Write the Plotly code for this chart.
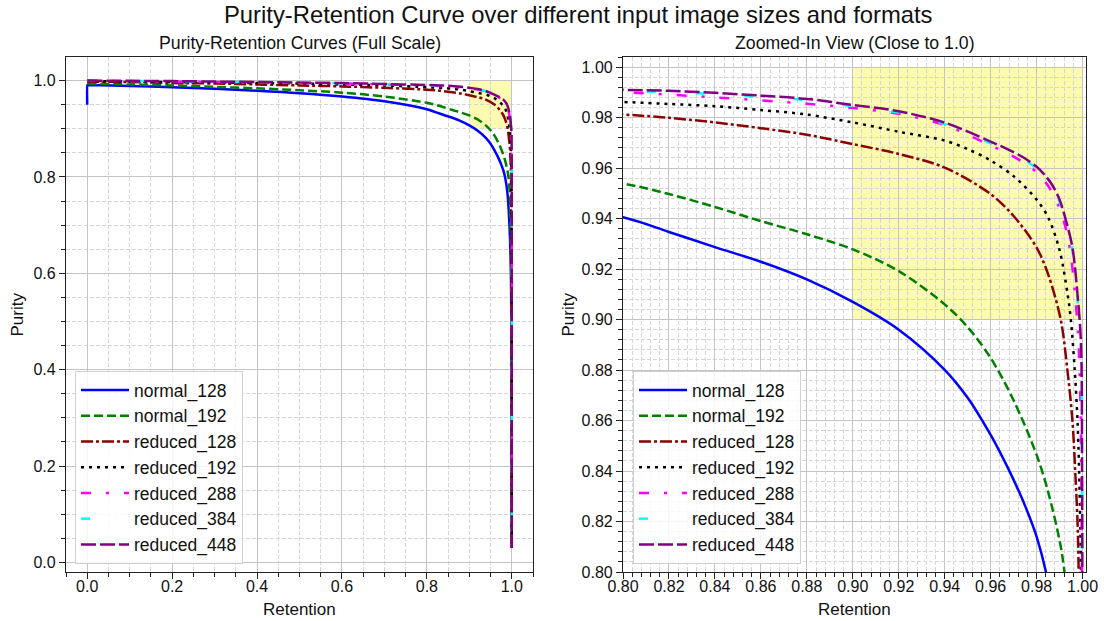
import plotly.graph_objects as go

# ---- purity / retention values per model variant ----
names = ["normal_128", "normal_192", "reduced_128", "reduced_192",
         "reduced_288", "reduced_384", "reduced_448"]

ret_normal_128 = [0.0, 0.0005, 0.001, 0.1, 0.2, 0.3, 0.4, 0.5, 0.6, 0.7, 0.8, 0.82, 0.84,
                  0.86, 0.88, 0.90, 0.92, 0.94, 0.95, 0.96, 0.965, 0.97, 0.975, 0.98,
                  0.985, 0.99, 0.995, 0.998, 0.9995, 1.0]
pur_normal_128 = [0.950, 0.991, 0.991, 0.989, 0.986, 0.983, 0.979, 0.974, 0.967, 0.957,
                  0.9405, 0.9347, 0.9287, 0.9229, 0.9159, 0.9070, 0.8960, 0.8801, 0.869,
                  0.8543, 0.8458, 0.8365, 0.8262, 0.8140, 0.7960, 0.765, 0.69, 0.60,
                  0.45, 0.03]

ret_normal_192 = [0.0, 0.1, 0.2, 0.3, 0.4, 0.5, 0.6, 0.7, 0.8, 0.82, 0.84, 0.86, 0.88,
                  0.90, 0.92, 0.94, 0.95, 0.96, 0.97, 0.98, 0.985, 0.99, 0.992, 0.995,
                  0.998, 0.9995, 1.0]
pur_normal_192 = [0.994, 0.992, 0.990, 0.987, 0.984, 0.980, 0.975, 0.967, 0.9539, 0.9497,
                  0.9446, 0.939, 0.9338, 0.9278, 0.9192, 0.906, 0.897, 0.8848, 0.868,
                  0.8464, 0.8318, 0.8125, 0.801, 0.77, 0.65, 0.45, 0.03]

ret_reduced_128 = [0.0, 0.1, 0.2, 0.3, 0.4, 0.5, 0.6, 0.7, 0.8, 0.82, 0.84, 0.86, 0.88,
                   0.90, 0.92, 0.94, 0.96, 0.97, 0.98, 0.985, 0.9905, 0.9934,
                   0.9956, 0.9968, 0.9978, 0.9983, 0.9993, 0.9998, 1.0]
pur_reduced_128 = [0.998, 0.997, 0.995, 0.994, 0.992, 0.990, 0.988, 0.985, 0.9812, 0.9799,
                   0.9781, 0.9758, 0.9732, 0.9695, 0.9656, 0.9602, 0.9497, 0.941,
                   0.9285, 0.918, 0.900, 0.880, 0.860, 0.840, 0.820, 0.800, 0.65, 0.35,
                   0.03]

ret_reduced_192 = [0.0, 0.1, 0.2, 0.3, 0.4, 0.5, 0.6, 0.7, 0.8, 0.82, 0.84, 0.86, 0.88,
                   0.90, 0.92, 0.94, 0.95, 0.96, 0.97, 0.98, 0.985, 0.99, 0.9935, 0.9949,
                   0.9966, 0.9978, 0.9985, 0.9993, 0.9998, 1.0]
pur_reduced_192 = [0.999, 0.998, 0.997, 0.996, 0.995, 0.994, 0.992, 0.990, 0.9862, 0.9854,
                   0.9845, 0.983, 0.9812, 0.9781, 0.9744, 0.9709, 0.9675, 0.963, 0.9568,
                   0.9475, 0.9405, 0.9275, 0.910, 0.900, 0.880, 0.860, 0.840, 0.800, 0.5,
                   0.03]

ret_reduced_288 = [0.0, 0.1, 0.2, 0.3, 0.4, 0.5, 0.6, 0.7, 0.8, 0.84, 0.88, 0.90, 0.92,
                   0.94, 0.96, 0.97, 0.975, 0.98, 0.985, 0.99, 0.993, 0.995, 0.9965,
                   0.998, 0.999, 0.9996, 0.99995, 1.0]
pur_reduced_288 = [1.0, 0.999, 0.998, 0.997, 0.996, 0.995, 0.994, 0.992, 0.990, 0.988,
                   0.9855, 0.9838, 0.9815, 0.9770, 0.969, 0.9645, 0.9618, 0.9583, 0.9530,
                   0.944, 0.935, 0.925, 0.912, 0.895, 0.870, 0.82, 0.7, 0.03]

ret_reduced_384 = [0.0, 0.1, 0.2, 0.3, 0.4, 0.5, 0.6, 0.7, 0.8, 0.82, 0.84, 0.86, 0.88,
                   0.90, 0.92, 0.94, 0.96, 0.97, 0.975, 0.98, 0.984, 0.987, 0.99, 0.9927,
                   0.9956, 0.9978, 0.9993, 0.9998, 0.99995, 1.0]
pur_reduced_384 = [1.0, 0.9993, 0.9987, 0.9977, 0.9967, 0.9957, 0.9946, 0.9926, 0.9905,
                   0.9901, 0.9893, 0.9882, 0.9869, 0.9845, 0.982, 0.9774, 0.9698, 0.9657,
                   0.9632, 0.9598, 0.9561, 0.9522, 0.9466, 0.9385, 0.9272, 0.908, 0.889,
                   0.84, 0.7, 0.03]

ret_reduced_448 = [0.0, 0.1, 0.2, 0.3, 0.4, 0.5, 0.6, 0.7, 0.8, 0.82, 0.84, 0.86, 0.88,
                   0.90, 0.92, 0.94, 0.96, 0.97, 0.975, 0.98, 0.984, 0.987, 0.99, 0.9927,
                   0.9956, 0.9978, 0.9993, 0.9998, 0.99995, 1.0]
pur_reduced_448 = [1.0, 0.9995, 0.999, 0.998, 0.997, 0.996, 0.995, 0.993, 0.991, 0.9906,
                   0.9898, 0.9887, 0.9874, 0.985, 0.9825, 0.978, 0.9705, 0.9663, 0.9638,
                   0.9605, 0.9568, 0.9530, 0.9475, 0.9395, 0.9285, 0.910, 0.891, 0.84,
                   0.7, 0.03]

retentions = [ret_normal_128, ret_normal_192, ret_reduced_128, ret_reduced_192,
              ret_reduced_288, ret_reduced_384, ret_reduced_448]
purities = [pur_normal_128, pur_normal_192, pur_reduced_128, pur_reduced_192,
            pur_reduced_288, pur_reduced_384, pur_reduced_448]

colors = ["#0000ff", "#008000", "#8b0000", "#000000", "#ff00ff", "#00ffff", "#800080"]
dashes = ["solid", "9px,4px", "12px,3px,3px,3px", "3px,5px",
          "10px,15px,3px,15px", "9px,40px", "15px,4px"]

# highlighted region (retention and purity both above 0.9)
highlight_x = [0.9, 1.0]
highlight_y = [0.9, 1.0]

W, H = 1104, 621
FONT = "Liberation Sans, Arial, sans-serif"

# plot areas in pixels: (left, right, top, bottom)
left_box = (66, 533, 57, 572)
right_box = (623, 1086, 57, 572)


def xdom(b):
    return [b[0] / W, b[1] / W]


def ydom(b):
    return [(H - b[3]) / H, (H - b[2]) / H]


fig = go.Figure()

for i, name in enumerate(names):
    for xa, ya, leg in (("x", "y", "legend"), ("x2", "y2", "legend2")):
        fig.add_trace(go.Scatter(
            x=retentions[i], y=purities[i], mode="lines", name=name,
            xaxis=xa, yaxis=ya, legend=leg,
            line=dict(color=colors[i], width=2.5, dash=dashes[i],
                      shape="spline", smoothing=0.9),
            hoverinfo="skip",
        ))

major_grid = "#c4c4c4"
minor_grid = "#d6d6d6"


def axis_style(domain, rng, dtick, minor_dtick, fmt, anchor, standoff):
    return dict(
        domain=domain, range=rng, dtick=dtick, tick0=0, tickformat=fmt,
        anchor=anchor, showline=True, mirror=True, linecolor="#222222", linewidth=1.2,
        ticks="outside", ticklen=6, tickwidth=1.1, tickcolor="#222222",
        showgrid=True, gridcolor=major_grid, gridwidth=1, zeroline=False,
        tickfont=dict(family=FONT, size=16, color="#111111"),
        ticklabelstandoff=standoff,
        automargin=False,
        minor=dict(dtick=minor_dtick, tick0=0, showgrid=True, gridcolor=minor_grid,
                   griddash="4px,2px", gridwidth=0.8, ticks="outside", ticklen=3.5,
                   tickcolor="#222222", tickwidth=0.9),
    )


fig.update_layout(
    width=W, height=H,
    margin=dict(l=0, r=0, t=0, b=0),
    paper_bgcolor="white", plot_bgcolor="white",
    font=dict(family=FONT, color="#111111"),
    xaxis=axis_style(xdom(left_box), [-0.05, 1.05], 0.2, 0.05, ".1f", "y", -6),
    yaxis=axis_style(ydom(left_box), [-0.02, 1.049], 0.2, 0.05, ".1f", "x", 0),
    xaxis2=axis_style(xdom(right_box), [0.8, 1.0015], 0.02, 0.004, ".2f", "y2", -6),
    yaxis2=axis_style(ydom(right_box), [0.8, 1.004], 0.02, 0.004, ".2f", "x2", 0),
)

legend_common = dict(
    xanchor="left", yanchor="bottom", bgcolor="rgba(255,255,255,0.85)",
    bordercolor="#d0d0d0", borderwidth=1, font=dict(family=FONT, size=17.5, color="#111111"),
    itemwidth=48, tracegroupgap=0,
)
fig.update_layout(
    legend=dict(x=75 / W, y=(H - 564) / H, **legend_common),
    legend2=dict(x=633 / W, y=(H - 564) / H, **legend_common),
)

# highlighted region in both panels
for xr, yr in (("x", "y"), ("x2", "y2")):
    fig.add_shape(type="rect", xref=xr, yref=yr,
                  x0=highlight_x[0], x1=highlight_x[1],
                  y0=highlight_y[0], y1=highlight_y[1],
                  fillcolor="#fdfbb0", line=dict(width=0), layer="below")


# titles and axis labels
def cx(b):
    return (b[0] + b[1]) / 2 / W


def py(p):
    return (H - p) / H


ann = [
    dict(text="Purity-Retention Curve over different input image sizes and formats",
         x=578 / W, y=py(15), size=23.8),
    dict(text="Purity-Retention Curves (Full Scale)", x=cx(left_box), y=py(43), size=17.7),
    dict(text="Zoomed-In View (Close to 1.0)", x=cx(right_box), y=py(43), size=17.7),
    dict(text="Retention", x=cx(left_box), y=py(609), size=17),
    dict(text="Retention", x=cx(right_box), y=py(609), size=17),
]
for a in ann:
    fig.add_annotation(text=a["text"], x=a["x"], y=a["y"], xref="paper", yref="paper",
                       xanchor="center", yanchor="middle", showarrow=False,
                       font=dict(family=FONT, size=a["size"], color="#111111"))
for xp in (17, 568):
    fig.add_annotation(text="Purity", x=xp / W, y=py((57 + 572) / 2), xref="paper",
                       yref="paper", xanchor="center", yanchor="middle", showarrow=False,
                       textangle=-90, font=dict(family=FONT, size=17, color="#111111"))

fig.write_html("out.html")
